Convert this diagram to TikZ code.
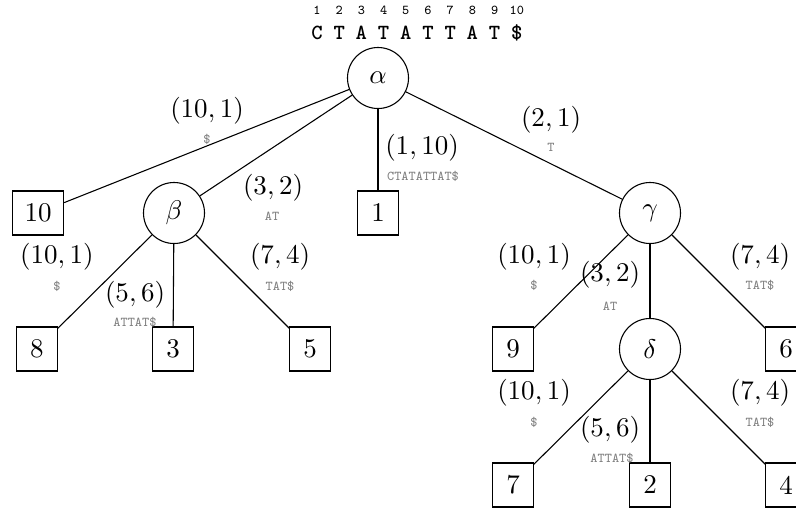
\documentclass[tikz,border=0pt]{standalone}
\begin{document}
\begin{tikzpicture}[x=0.37037pt,y=-0.37037pt,
  inner/.style={draw,circle,minimum size=22.6pt,inner sep=0pt},
  leaf/.style={draw,rectangle,minimum width=15pt,minimum height=16.3pt,inner sep=4.5pt},
  lab/.style={inner sep=0pt},
  seq/.style={inner sep=0pt,font=\tiny\ttfamily,text=black!50},
  letter/.style={inner sep=0pt,font=\footnotesize\ttfamily\bfseries},
  idx/.style={inner sep=0pt,font=\tiny\ttfamily}]
\clip (0,0) rectangle (796,508);
% string
\foreach \c [count=\i] in {C,T,A,T,A,T,T,A,T,\$}{
  \node[letter] (s\i) at ({317+22.2*(\i-1)},33) {\c};
  \node[idx] (n\i) at ({317+22.2*(\i-1)},10) {\i};
}
% nodes
\node[inner] (alpha) at (378,78) {$\alpha$};
\node[leaf] (l10) at (38,213) {10};
\node[inner] (beta) at (174,213) {$\beta$};
\node[leaf] (l1) at (378,213) {1};
\node[inner] (gamma) at (650,213) {$\gamma$};
\node[leaf] (l8) at (37,349) {8};
\node[leaf] (l3) at (173,349) {3};
\node[leaf] (l5) at (310,349) {5};
\node[leaf] (l9) at (513,349) {9};
\node[inner] (delta) at (650,349) {$\delta$};
\node[leaf] (l6) at (786,349) {6};
\node[leaf] (l7) at (513,485) {7};
\node[leaf] (l2) at (650,485) {2};
\node[leaf] (l4) at (786,485) {4};
% edges
\foreach \a/\b in {alpha/l10,alpha/beta,alpha/l1,alpha/gamma,beta/l8,beta/l3,beta/l5,gamma/l9,gamma/delta,gamma/l6,delta/l7,delta/l2,delta/l4}
  \draw (\a) -- (\b);
% labels
\node[lab] (e1) at (207,111) {$(10,1)$};
\node[seq] (t1) at (207,139) {\$};
\node[lab] (e2) at (273,188) {$(3,2)$};
\node[seq] (t2) at (272,216) {AT};
\node[lab] (e3) at (422,148) {$(1,10)$};
\node[seq] (t3) at (423,176) {CTATATTAT\$};
\node[lab] (e4) at (551,120) {$(2,1)$};
\node[seq] (t4) at (551,147) {T};
\node[lab] (e5) at (57,257) {$(10,1)$};
\node[seq] (t5) at (57,286) {\$};
\node[lab] (e6) at (135,295) {$(5,6)$};
\node[seq] (t6) at (135,322) {ATTAT\$};
\node[lab] (e7) at (280,257) {$(7,4)$};
\node[seq] (t7) at (280,286) {TAT\$};
\node[lab] (e8) at (534,257) {$(10,1)$};
\node[seq] (t8) at (534,285) {\$};
\node[lab] (e9) at (610,275) {$(3,2)$};
\node[seq] (t9) at (610,306) {AT};
\node[lab] (e10) at (760,257) {$(7,4)$};
\node[seq] (t10) at (760,285) {TAT\$};
\node[lab] (e11) at (534,393) {$(10,1)$};
\node[seq] (t11) at (534,422) {\$};
\node[lab] (e12) at (610,430) {$(5,6)$};
\node[seq] (t12) at (612,458) {ATTAT\$};
\node[lab] (e13) at (760,393) {$(7,4)$};
\node[seq] (t13) at (760,422) {TAT\$};
\end{tikzpicture}
\end{document}
